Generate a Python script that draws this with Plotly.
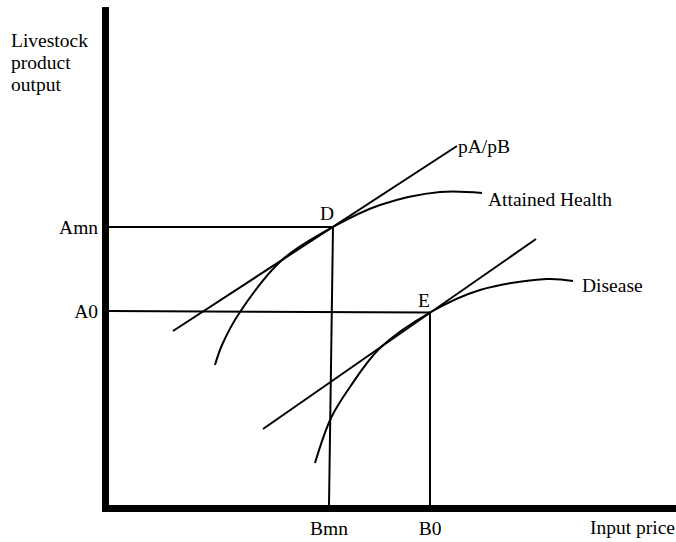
import plotly.graph_objects as go

# ---- data (units; origin at the axes corner) ----
attained_x = [106, 113, 131, 173, 224, 271, 331, 373]
attained_y = [140, 160, 193, 245, 278, 300, 313, 312]

disease_x = [206, 222, 241, 271, 321, 371, 438, 464]
disease_y = [42, 87, 118, 157, 192.5, 215, 226, 224]

price1_x = [64, 348]
price1_y = [174, 359]
price2_x = [154, 427]
price2_y = [76, 266]

point_D = (224, 278)
point_E = (321, 192.5)
Bmn, B0 = 220, 321
Amn, A0 = 278, 194

x_ticks = [Bmn, B0]
x_ticktext = ["Bmn", "B0"]
y_ticks = [A0, Amn]
y_ticktext = ["A0", "Amn"]

X_MAX, Y_MAX = 567, 498

FONT = "Liberation Serif, Times New Roman, serif"
FS = 19.5
line_style = dict(color="black", width=2)

fig = go.Figure()

fig.add_trace(go.Scatter(x=attained_x, y=attained_y, mode="lines",
                         line=dict(color="black", width=2, shape="spline", smoothing=1),
                         hoverinfo="skip"))
fig.add_trace(go.Scatter(x=disease_x, y=disease_y, mode="lines",
                         line=dict(color="black", width=2, shape="spline", smoothing=1),
                         hoverinfo="skip"))
fig.add_trace(go.Scatter(x=price1_x, y=price1_y, mode="lines", line=line_style, hoverinfo="skip"))
fig.add_trace(go.Scatter(x=price2_x, y=price2_y, mode="lines", line=line_style, hoverinfo="skip"))
# guide lines to the axes
fig.add_trace(go.Scatter(x=[0, point_D[0], Bmn], y=[Amn, point_D[1], 0], mode="lines",
                         line=line_style, hoverinfo="skip"))
fig.add_trace(go.Scatter(x=[0, point_E[0], B0], y=[A0, point_E[1], 0], mode="lines",
                         line=line_style, hoverinfo="skip"))

tf = dict(family=FONT, size=FS, color="black")
ann = []
def label(text, x, y, xanchor="left"):
    ann.append(dict(text=text, x=x / X_MAX, y=y / Y_MAX, xref="paper", yref="paper",
                    showarrow=False, xanchor=xanchor, yanchor="middle", font=tf))

label("pA/pB", 347, 359)
label("Attained Health", 377, 306)
label("Disease", 471, 220)
label("D", 218, 291, "center")
label("E", 315, 205, "center")
label("Input price", X_MAX + 1, -22, "right")
label("Livestock", -100, 465)
label("product", -100, 442)
label("output", -100, 420)

fig.update_layout(
    width=676, height=542,
    margin=dict(l=109, r=0, t=7, b=37),
    paper_bgcolor="white", plot_bgcolor="white",
    showlegend=False,
    annotations=ann,
    xaxis=dict(range=[0, X_MAX], showline=True, linewidth=7, linecolor="black",
               showgrid=False, zeroline=False, ticks="",
               tickvals=x_ticks, ticktext=x_ticktext, tickfont=tf, fixedrange=True),
    yaxis=dict(range=[0, Y_MAX], showline=True, linewidth=7, linecolor="black",
               showgrid=False, zeroline=False, ticks="",
               tickvals=y_ticks, ticktext=y_ticktext, tickfont=tf, fixedrange=True),
)

fig.write_html("out.html",
               config={"displayModeBar": False, "staticPlot": True},
               post_script="document.body.style.margin='0';document.body.style.overflow='hidden';")
